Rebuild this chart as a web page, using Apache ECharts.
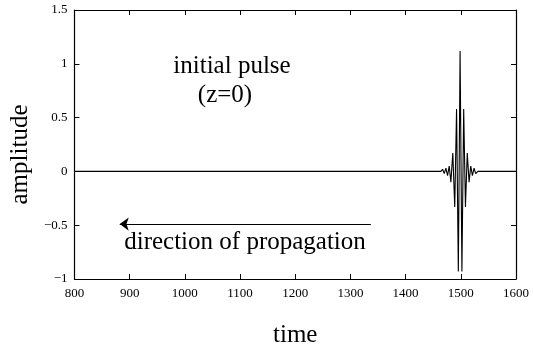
<!DOCTYPE html>
<html>
<head>
<meta charset="utf-8">
<script src="https://cdn.jsdelivr.net/npm/echarts@6/dist/echarts.min.js"></script>
<style>
  html, body { margin: 0; padding: 0; background: #fff; }
  #chart { width: 533px; height: 353px; }
</style>
</head>
<body>
<div id="chart"></div>
<script>
// Initial pulse sampled at its turning points; flat (zero) elsewhere.
const times = [800, 1464, 1467, 1470, 1473, 1476, 1479, 1482, 1485.5, 1489, 1492.3, 1495.5,
               1498.7, 1502, 1505.2, 1508.4, 1511.7, 1515, 1518, 1521, 1524, 1527, 1531, 1600];
const amplitudes = [0, 0, 0.02, -0.02, 0.03, -0.04, 0.05, -0.1, 0.17, -0.33, 0.58, -0.93,
                    1.12, -0.93, 0.58, -0.33, 0.17, -0.1, 0.05, -0.04, 0.03, -0.02, 0, 0];

// Axis ranges and tick spacing
const timeRange = [800, 1600];
const timeStep = 100;
const ampRange = [-1, 1.5];
const ampStep = 0.5;

// Arrow showing the direction of propagation (time, amplitude)
const arrowFrom = [1337, -0.49];
const arrowTo = [882, -0.49];

const serif = '"Liberation Serif", "Times New Roman", serif';
const fmtAmp = v => (v < 0 ? '\u2212' + Math.abs(v) : String(v));
const fmtTime = v => String(v);

const pulse = times.map((t, i) => [t, amplitudes[i]]);

const tickStyle = { inside: true, length: 5, lineStyle: { color: '#000', width: 1 } };
const lineStyle = { onZero: false, lineStyle: { color: '#000', width: 1.2 } };

const chart = echarts.init(document.getElementById('chart'), null, { renderer: 'canvas' });
chart.setOption({
  animation: false,
  backgroundColor: '#fff',
  grid: { left: 71, right: 17, top: 10, bottom: 73.5, containLabel: false },
  xAxis: [{
    type: 'value', min: timeRange[0], max: timeRange[1], interval: timeStep,
    axisLine: lineStyle, axisTick: tickStyle, splitLine: { show: false },
    axisLabel: { color: '#000', fontFamily: serif, fontSize: 13, margin: 8, formatter: fmtTime },
    name: 'time', nameLocation: 'middle', nameGap: 44,
    nameTextStyle: { color: '#000', fontFamily: serif, fontSize: 25 }
  }, {
    type: 'value', position: 'top', min: timeRange[0], max: timeRange[1], interval: timeStep,
    axisLine: lineStyle, axisTick: tickStyle, axisLabel: { show: false }, splitLine: { show: false }
  }],
  yAxis: [{
    type: 'value', min: ampRange[0], max: ampRange[1], interval: ampStep,
    axisLine: lineStyle, axisTick: tickStyle, splitLine: { show: false },
    axisLabel: { color: '#000', fontFamily: serif, fontSize: 13, margin: 7, formatter: fmtAmp },
    name: 'amplitude', nameLocation: 'middle', nameGap: 36,
    nameTextStyle: { color: '#000', fontFamily: serif, fontSize: 25, padding: [0, 20, 0, 0] }
  }, {
    type: 'value', position: 'right', min: ampRange[0], max: ampRange[1], interval: ampStep,
    axisLine: lineStyle, axisTick: tickStyle, axisLabel: { show: false }, splitLine: { show: false }
  }],
  series: [{
    type: 'line',
    data: pulse,
    showSymbol: false,
    symbol: 'none',
    lineStyle: { color: '#000', width: 1.1 },
    markLine: {
      silent: true,
      symbol: ['none', 'arrow'],
      symbolSize: [10, 9],
      label: { show: false },
      lineStyle: { color: '#000', width: 1.2, type: 'solid' },
      data: [[{ coord: arrowFrom }, { coord: arrowTo }]]
    }
  }],
  graphic: [
    { type: 'text', x: 232, y: 66,
      style: { text: 'initial pulse', font: '25px ' + serif, fill: '#000', align: 'center', verticalAlign: 'middle' } },
    { type: 'text', x: 225, y: 95,
      style: { text: '(z=0)', font: '25px ' + serif, fill: '#000', align: 'center', verticalAlign: 'middle' } },
    { type: 'text', x: 245, y: 242,
      style: { text: 'direction of propagation', font: '25px ' + serif, fill: '#000', align: 'center', verticalAlign: 'middle' } }
  ]
});
</script>
</body>
</html>
